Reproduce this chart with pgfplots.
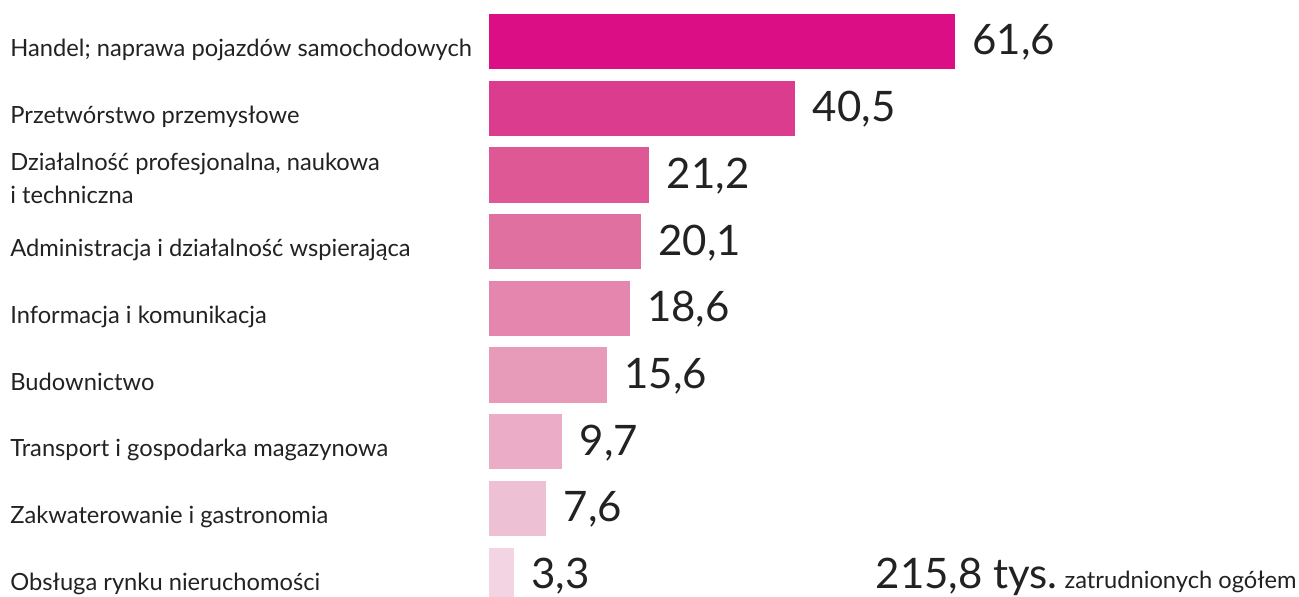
\documentclass[border=0pt]{standalone}
\usepackage{pgfplots}
\pgfplotsset{compat=1.18}
\usepackage{fontspec}
\setmainfont{Lato}
\definecolor{c1}{HTML}{DB0E86}
\definecolor{c2}{HTML}{DC3C8D}
\definecolor{c3}{HTML}{DE5896}
\definecolor{c4}{HTML}{E0709F}
\definecolor{c5}{HTML}{E486AD}
\definecolor{c6}{HTML}{E89BB9}
\definecolor{c7}{HTML}{EBACC7}
\definecolor{c8}{HTML}{EEC0D4}
\definecolor{c9}{HTML}{F3D4E2}
\definecolor{txt}{HTML}{222222}
\newcommand{\catfont}{\fontsize{11.85pt}{14pt}\selectfont}
\newcommand{\valfont}{\fontsize{21pt}{25pt}\selectfont}
\begin{document}
\begin{tikzpicture}
\begin{axis}[
  scale only axis,
  width=405pt, height=298.5pt,
  xmin=0, xmax=107.07,
  ymin=-0.6237, ymax=8.327,
  y dir=reverse,
  xbar, bar shift=0pt, bar width=0.829,
  axis line style={draw=none},
  major tick length=0pt,
  xtick=\empty,
  ytick={0,1,2,3,4,5,6,7,8},
  yticklabels={
    {Handel; naprawa pojazdów samochodowych},
    {Przetwórstwo przemysłowe},
    {\raisebox{9.75pt}{\vtop{\baselineskip=16.35pt\hbox{Działalność profesjonalna, naukowa}\hbox{i techniczna}}}},
    {Administracja i działalność wspierająca},
    {Informacja i komunikacja},
    {Budownictwo},
    {Transport i gospodarka magazynowa},
    {Zakwaterowanie i gastronomia},
    {Obsługa rynku nieruchomości}},
  yticklabel style={anchor=base west, inner sep=0pt, xshift=-239.5pt, yshift=-7.5pt, font=\catfont, text=txt},
  point meta=x,
  nodes near coords,
  nodes near coords style={anchor=base west, inner sep=0pt, xshift=8.5pt, yshift=-6.7pt, font=\valfont, text=txt,
    /pgf/number format/.cd, use comma, fixed, fixed zerofill, precision=1, assume math mode=true},
  clip=false,
]
\addplot[fill=c1, draw=none] coordinates {(61.6,0)};
\addplot[fill=c2, draw=none] coordinates {(40.5,1)};
\addplot[fill=c3, draw=none] coordinates {(21.2,2)};
\addplot[fill=c4, draw=none] coordinates {(20.1,3)};
\addplot[fill=c5, draw=none] coordinates {(18.6,4)};
\addplot[fill=c6, draw=none] coordinates {(15.6,5)};
\addplot[fill=c7, draw=none] coordinates {(9.7,6)};
\addplot[fill=c8, draw=none] coordinates {(7.6,7)};
\addplot[fill=c9, draw=none] coordinates {(3.3,8)};
\end{axis}
\node[anchor=base east, inner sep=0pt, text=txt] at (404pt,4pt) {{\valfont 215,8 tys.} {\catfont zatrudnionych ogółem}};
\pgfresetboundingbox
\path[use as bounding box] (-244.5pt,0pt) rectangle (405pt,298.5pt);
\end{tikzpicture}
\end{document}
